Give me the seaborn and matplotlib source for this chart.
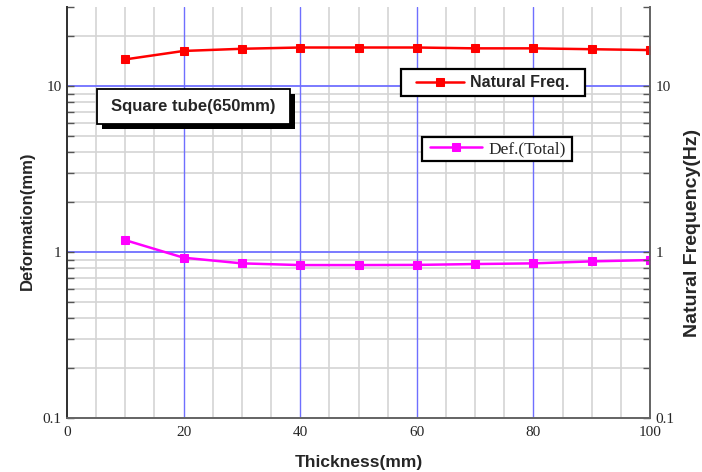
import matplotlib
matplotlib.use("Agg")
import matplotlib.pyplot as plt
import seaborn as sns
import pandas as pd
import numpy as np
from matplotlib.ticker import FixedLocator, LogLocator, NullFormatter, FixedFormatter
from matplotlib.patches import Rectangle

thickness = [10, 20, 30, 40, 50, 60, 70, 80, 90, 100]
natural_freq = [14.5, 16.3, 16.8, 17.1, 17.1, 17.1, 16.9, 16.9, 16.7, 16.5]
deformation = [1.18, 0.925, 0.855, 0.835, 0.835, 0.837, 0.847, 0.855, 0.879, 0.895]

df_freq = pd.DataFrame({"Thickness": thickness, "Value": natural_freq})
df_def = pd.DataFrame({"Thickness": thickness, "Value": deformation})

sns.set_style("white")
serif = ["Liberation Serif", "DejaVu Serif"]
sans = ["Liberation Sans", "DejaVu Sans"]

W, H = 702, 472
L, R, T, B = 67, 650, 7, 418
fig = plt.figure(figsize=(7.02, 4.72), dpi=100)
ax = fig.add_axes([L / W, 1 - B / H, (R - L) / W, (B - T) / H])
ax2 = ax.twinx()


def ax_x(px):
    return (px - L) / (R - L)


def ax_y(py):
    return (B - py) / (B - T)


for a in (ax, ax2):
    a.set_yscale("log")
    a.set_ylim(0.1, 30)
    a.set_xlim(0, 100)

# grid
for xv in np.arange(5, 100, 5):
    if xv % 20 == 0:
        ax.axvline(xv, color="#6f6fff", lw=1.0, zorder=0.5)
    else:
        ax.axvline(xv, color="#d4d4d4", lw=1.2, zorder=0)
for dec in [0.1, 1, 10]:
    for m in range(2, 10):
        yv = dec * m
        if yv < 29:
            ax.axhline(yv, color="#d4d4d4", lw=1.2, zorder=0)
for yv in [1, 10]:
    ax.axhline(yv, color="#7070ff", lw=1.3, zorder=0.5)

sns.lineplot(data=df_freq, x="Thickness", y="Value", ax=ax, color="#ff0000",
             marker="s", markersize=6, markeredgecolor="#ff0000", lw=1.8,
             label="Natural Freq.", legend=False, zorder=3)
sns.lineplot(data=df_def, x="Thickness", y="Value", ax=ax, color="#ff00ff",
             marker="s", markersize=6, markeredgecolor="#ff00ff", lw=1.8,
             label="Def.(Total)", legend=False, zorder=3)

# ticks
for a in (ax, ax2):
    a.set_ylim(0.1, 30)
    a.yaxis.set_major_locator(FixedLocator([0.1, 1, 10]))
    a.yaxis.set_major_formatter(FixedFormatter(["0.1", "1", "10"]))
    a.yaxis.set_minor_locator(LogLocator(base=10, subs=np.arange(2, 10)))
    a.yaxis.set_minor_formatter(NullFormatter())
    a.tick_params(axis="y", which="both", direction="in", length=5, width=1, color="#555555",
                  labelsize=11, pad=4)
    for lab in a.get_yticklabels():
        lab.set_fontfamily(serif)
ax.set_xticks([0, 20, 40, 60, 80, 100])
ax.set_xticklabels(["0", "20", "40", "60", "80", "100"], fontfamily=serif, fontsize=11)
ax.set_xticks(np.arange(0, 101, 5), minor=True)
ax.tick_params(axis="x", which="both", direction="in", length=5, width=1, color="#555555", pad=6)
ax.tick_params(axis="y", which="both", left=True, right=False)
ax2.tick_params(axis="y", which="both", left=False, right=True)

for a in (ax, ax2):
    a.spines["top"].set_visible(False)
    a.spines["left"].set_color("#333333")
    a.spines["right"].set_color("#666666")
    a.spines["bottom"].set_color("#666666")
    for s in ("left", "right", "bottom"):
        a.spines[s].set_linewidth(1.3)
    a.grid(False)

ax.set_xlabel("Thickness(mm)", fontfamily=sans, fontweight="bold", fontsize=12.5)
ax.set_ylabel("Deformation(mm)", fontfamily=sans, fontweight="bold", fontsize=12)
ax2.set_ylabel("Natural Frequency(Hz)", fontfamily=sans, fontweight="bold", fontsize=14)
ax.xaxis.set_label_coords(ax_x(358.5), ax_y(462))
ax.yaxis.set_label_coords(ax_x(27), ax_y(221))
ax2.yaxis.set_label_coords(ax_x(692), ax_y(233))
for lab in (ax.xaxis.label, ax.yaxis.label, ax2.yaxis.label):
    lab.set_va("center")
    lab.set_ha("center")

# legends (handles taken from the seaborn lines)
handles, labels = ax.get_legend_handles_labels()
h = dict(zip(labels, handles))


def box(x0, y0, x1, y1, lw=1.6, zorder=9):
    ax.add_patch(Rectangle((ax_x(x0), ax_y(y1)), ax_x(x1) - ax_x(x0), ax_y(y0) - ax_y(y1),
                           transform=ax.transAxes, facecolor="white", edgecolor="black",
                           lw=lw, zorder=zorder))


box(401, 69, 585, 96)
leg1 = ax.legend([h["Natural Freq."]], ["Natural Freq."], loc="center left",
                 bbox_to_anchor=(ax_x(416), ax_y(83)), frameon=False,
                 prop={"family": sans, "weight": "bold", "size": 11.5},
                 borderpad=0, borderaxespad=0, handlelength=3.0, handletextpad=0.4)
leg1.set_zorder(10)
ax.add_artist(leg1)

box(422, 137, 572, 161)
leg2 = ax.legend([h["Def.(Total)"]], ["Def.(Total)"], loc="center left",
                 bbox_to_anchor=(ax_x(430), ax_y(149)), frameon=False,
                 prop={"family": serif, "size": 12.5},
                 borderpad=0, borderaxespad=0, handlelength=3.0, handletextpad=0.35)
leg2.set_zorder(10)

# text box with shadow
ax.add_patch(Rectangle((ax_x(102), ax_y(129)), ax_x(295) - ax_x(102), ax_y(94) - ax_y(129),
                       transform=ax.transAxes, facecolor="black", edgecolor="none", zorder=11))
box(97, 89, 290, 124, lw=1.3, zorder=12)
ax.text(ax_x(193.5), ax_y(106), "Square tube(650mm)", transform=ax.transAxes,
        ha="center", va="center", fontfamily=sans, fontweight="bold", fontsize=12, zorder=13)

fig.savefig("out.png", dpi=100)
